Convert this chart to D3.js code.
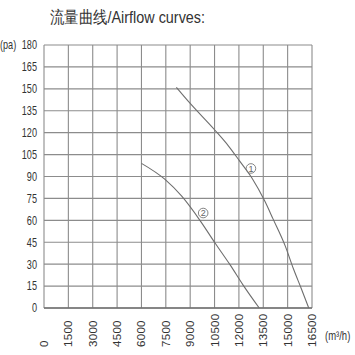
<!DOCTYPE html>
<html lang="zh">
<head>
<meta charset="UTF-8">
<title>流量曲线</title>
<script src="https://d3js.org/d3.v7.min.js"></script>
<style>
    body { margin: 0; background: #fff; }
    .grid line { stroke: #8c8c8c; stroke-width: 1.1; }
    .curve { fill: none; stroke: #6e6e6e; stroke-width: 1.1; }
    text { font-family: "Liberation Sans", Arial, sans-serif; fill: #333; }
</style>
</head>
<body>
<script>
    // tick values
    var flowTicks = [0, 1500, 3000, 4500, 6000, 7500, 9000, 10500, 12000, 13500, 15000, 16500];
    var pressureTicks = [0, 15, 30, 45, 60, 75, 90, 105, 120, 135, 150, 165, 180];

    // curves: [flow m3/h, pressure pa]
    var curve1 = [[8150, 151], [9000, 140], [10500, 122], [11350, 111], [12050, 100.5], [12800, 89],
        [13600, 73], [14100, 61], [14850, 42.5], [15350, 27], [15850, 13], [16300, 0]];
    var curve2 = [[6000, 99], [7450, 88], [8480, 76.5], [9600, 60], [10530, 44.5], [11460, 29.5],
        [12270, 15.5], [13250, 0]];
    var curveLabels = [{ name: "1", flow: 12740, pa: 95.5 }, { name: "2", flow: 9800, pa: 65 }];

    var width = 355, height = 355;
    var squeeze = 0.73; // the source uses a condensed face

    var svg = d3.select("body").append("svg")
        .attr("width", width)
        .attr("height", height);

    var x = d3.scaleLinear().domain([0, 16500]).range([44, 312]);
    var y = d3.scaleLinear().domain([0, 180]).range([308, 45]);

    // title
    svg.append("text")
        .attr("x", 50).attr("y", 23)
        .attr("font-family", "'Liberation Sans', 'Noto Sans CJK SC', sans-serif")
        .attr("font-size", 17)
        .attr("textLength", 155)
        .attr("lengthAdjust", "spacingAndGlyphs")
        .text("流量曲线/Airflow curves:");

    // grid
    var grid = svg.append("g").attr("class", "grid");
    grid.selectAll(".v").data(flowTicks).enter().append("line")
        .attr("x1", d => x(d)).attr("x2", d => x(d))
        .attr("y1", y(180)).attr("y2", y(0));
    grid.selectAll(".h").data(pressureTicks).enter().append("line")
        .attr("x1", x(0)).attr("x2", x(16500))
        .attr("y1", d => y(d)).attr("y2", d => y(d));

    // bottom axis line a bit darker
    svg.append("line")
        .attr("x1", x(0)).attr("x2", x(16500))
        .attr("y1", y(0)).attr("y2", y(0))
        .attr("stroke", "#707070").attr("stroke-width", 1.6);

    // y labels
    svg.append("g").selectAll("text").data(pressureTicks).enter().append("text")
        .attr("transform", d => "translate(37," + y(d) + ") scale(" + squeeze + ",1)")
        .attr("dy", "0.35em")
        .attr("text-anchor", "end")
        .attr("font-size", 12.5)
        .text(d => d);
    svg.append("text")
        .attr("transform", "translate(0," + y(180) + ") scale(" + squeeze + ",1)")
        .attr("dy", "0.35em")
        .attr("font-size", 12.5)
        .text("(pa)");

    // x labels, rotated
    svg.append("g").selectAll("text").data(flowTicks).enter().append("text")
        .attr("transform", d => "translate(" + x(d) + ",347) rotate(-90)")
        .attr("dy", "0.35em")
        .attr("font-size", 11.5)
        .attr("letter-spacing", 0.3)
        .text(d => d);
    svg.append("text")
        .attr("transform", "translate(325,335) scale(" + squeeze + ",1)")
        .attr("dy", "0.35em")
        .attr("font-size", 13)
        .text("(m³/h)");

    // curves
    var line = d3.line()
        .x(d => x(d[0]))
        .y(d => y(d[1]))
        .curve(d3.curveMonotoneX);

    svg.append("path").attr("class", "curve").attr("d", line(curve1));
    svg.append("path").attr("class", "curve").attr("d", line(curve2));

    var lab = svg.append("g").selectAll("g").data(curveLabels).enter().append("g")
        .attr("transform", d => "translate(" + x(d.flow) + "," + y(d.pa) + ")");
    lab.append("circle")
        .attr("r", 4.8)
        .attr("fill", "none")
        .attr("stroke", "#777")
        .attr("stroke-width", 0.9);
    lab.append("text")
        .attr("text-anchor", "middle")
        .attr("dy", "0.35em")
        .attr("font-size", 9)
        .style("fill", "#666")
        .text(d => d.name);
</script>
</body>
</html>
